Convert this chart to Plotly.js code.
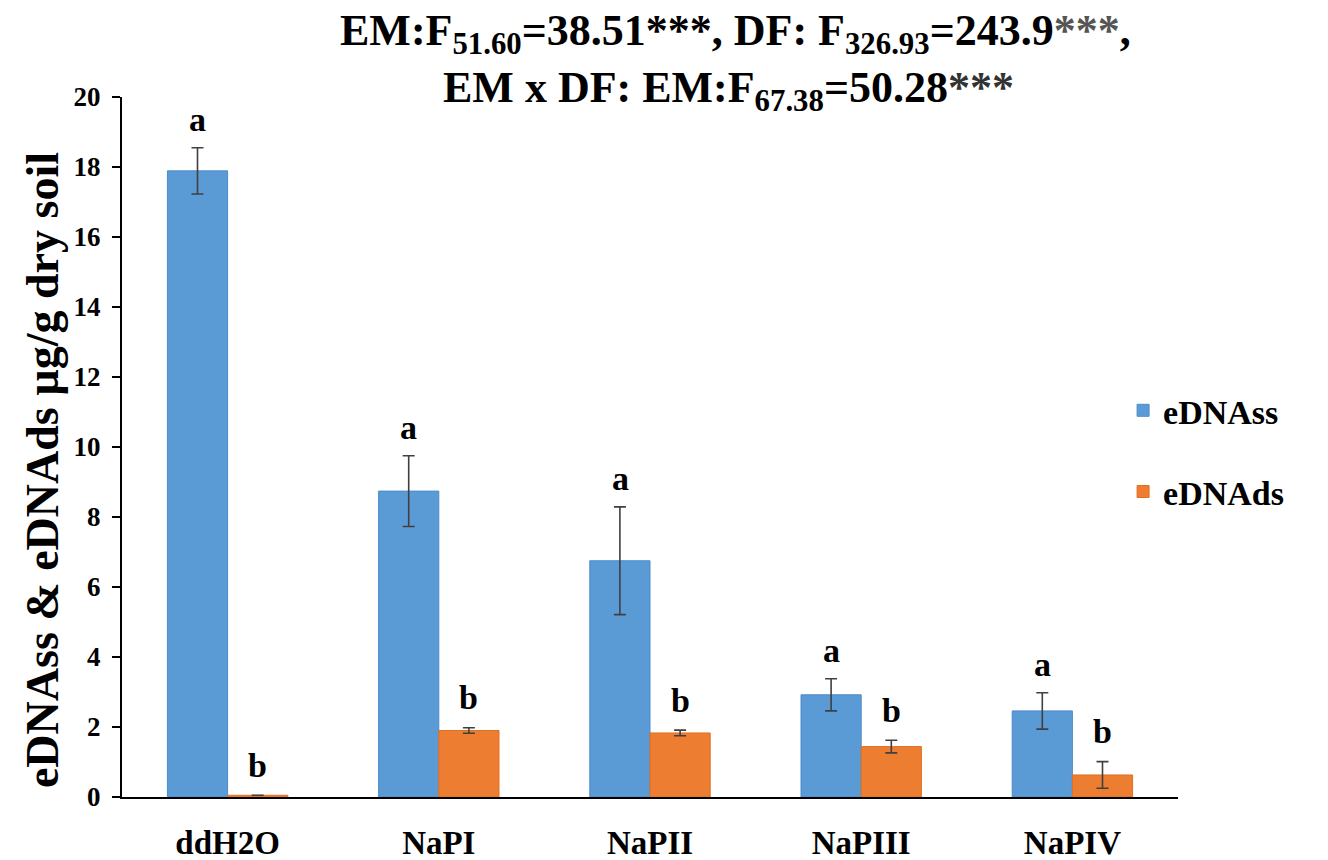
<!DOCTYPE html>
<html>
<head>
<meta charset="utf-8">
<script src="https://cdn.plot.ly/plotly-3.0.1.min.js"></script>
<style>html,body{margin:0;padding:0;background:#fff;}#chart{width:1328px;height:860px;}</style>
</head>
<body>
<div id="chart"></div>
<script>
const categories = ["ddH2O", "NaPI", "NaPII", "NaPIII", "NaPIV"];
const ssValues = [17.89, 8.74, 6.75, 2.92, 2.46];
const ssErrors = [0.66, 1.01, 1.54, 0.46, 0.52];
const dsValues = [0.05, 1.9, 1.83, 1.44, 0.63];
const dsErrors = [0.0, 0.08, 0.08, 0.18, 0.38];
const ssLetters = ["a", "a", "a", "a", "a"];
const dsLetters = ["b", "b", "b", "b", "b"];
const yTicks = [0, 2, 4, 6, 8, 10, 12, 14, 16, 18, 20];
const titleLine1 = "EM:F<sub>51.60</sub>=38.51***, DF: F<sub>326.93</sub>=243.9<span style='color:#555'>***</span>,";
const titleLine2 = "EM x DF: EM:F<sub>67.38</sub>=50.28<span style='color:#333'>***</span>";
const yTitle = "eDNAss & eDNAds µg/g dry soil";

const serif = "Liberation Serif, Times New Roman, serif";
const blue = "#5B9BD5";
const orange = "#ED7D31";

const traces = [
  {
    type: "bar", name: "eDNAss", x: categories, y: ssValues,
    marker: {color: blue, line: {color: "#4a8ccc", width: 1}},
    error_y: {type: "data", array: ssErrors, visible: true, color: "#404040", thickness: 1.6, width: 6},
    legendgroup: "ss"
  },
  {
    type: "bar", name: "eDNAds", x: categories, y: dsValues,
    marker: {color: orange, line: {color: "#e07020", width: 1}},
    error_y: {type: "data", array: dsErrors, visible: true, color: "#404040", thickness: 1.6, width: 6},
    legendgroup: "ds"
  }
];

const annotations = [];
categories.forEach((c, i) => {
  annotations.push({
    x: c, y: ssValues[i] + ssErrors[i], xref: "x", yref: "y",
    text: ssLetters[i], showarrow: false, xshift: -30, yshift: 28,
    font: {family: serif, size: 34, color: "#000", weight: "bold"}
  });
  annotations.push({
    x: c, y: dsValues[i] + dsErrors[i], xref: "x", yref: "y",
    text: dsLetters[i], showarrow: false, xshift: 30, yshift: 30,
    font: {family: serif, size: 34, color: "#000", weight: "bold"}
  });
});
annotations.push({
  text: "<b>" + titleLine1 + "</b>", xref: "paper", yref: "paper", x: 0.581, y: 1.09,
  xanchor: "center", yanchor: "middle", showarrow: false,
  font: {family: serif, size: 44, color: "#000"}
});
annotations.push({
  text: "<b>" + titleLine2 + "</b>", xref: "paper", yref: "paper", x: 0.574, y: 1.01,
  xanchor: "center", yanchor: "middle", showarrow: false,
  font: {family: serif, size: 44, color: "#000"}
});
annotations.push({
  text: "<b>" + yTitle + "</b>", xref: "paper", yref: "paper", x: -0.0758, y: 0.467,
  xanchor: "center", yanchor: "middle", showarrow: false, textangle: -90,
  font: {family: serif, size: 46, color: "#000"}
});

const layout = {
  width: 1328, height: 860,
  margin: {l: 122, r: 150, t: 97, b: 63},
  paper_bgcolor: "#fff", plot_bgcolor: "#fff",
  barmode: "group", bargap: 0.43, bargroupgap: 0,
  xaxis: {
    type: "category",
    showline: true, linecolor: "#000", linewidth: 2,
    ticks: "", showgrid: false, zeroline: false,
    tickfont: {family: serif, size: 33, color: "#000", weight: "bold"},
    ticklabelstandoff: 15
  },
  yaxis: {
    range: [0, 20], tickvals: yTicks, ticktext: yTicks.map(String),
    showline: true, linecolor: "#000", linewidth: 2,
    ticks: "outside", ticklen: 8, tickwidth: 1.5, tickcolor: "#000",
    showgrid: false, zeroline: false,
    tickfont: {family: serif, size: 27, color: "#000", weight: "bold"},
    ticklabelstandoff: 6
  },
  legend: {
    x: 0.948, xanchor: "left", y: 0.494, yanchor: "middle",
    font: {family: serif, size: 34, color: "#000", weight: "bold"},
    tracegroupgap: 34, itemwidth: 30, bgcolor: "rgba(0,0,0,0)"
  },
  annotations: annotations,
  showlegend: true
};

Plotly.newPlot("chart", traces, layout, {displayModeBar: false, staticPlot: true});
</script>
</body>
</html>
